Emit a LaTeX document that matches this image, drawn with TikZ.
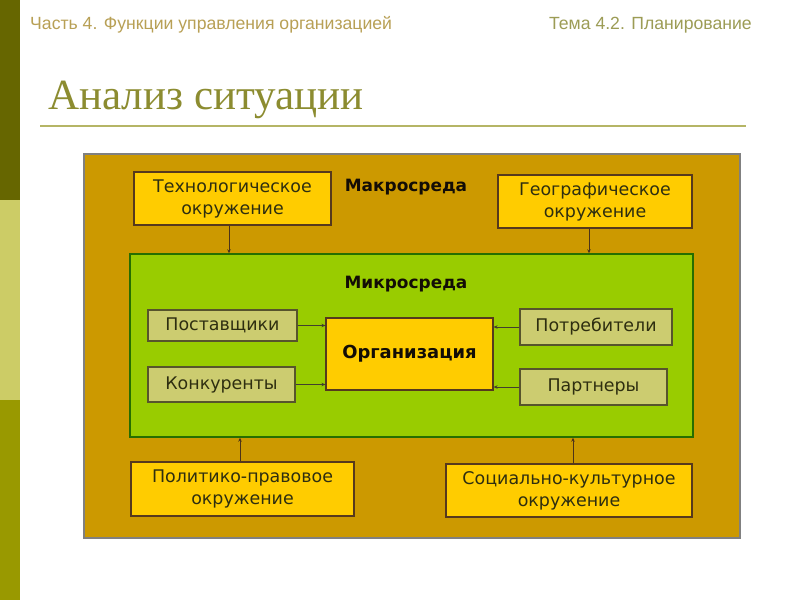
\documentclass[tikz,border=0pt]{standalone}
\usepackage{fontspec}
\setmainfont{DejaVu Sans}
\newfontfamily\hdrfont{Liberation Sans}
\newfontfamily\ttlfont{Liberation Serif}
\usetikzlibrary{arrows.meta}
\definecolor{barA}{HTML}{666600}
\definecolor{barB}{HTML}{CCCC66}
\definecolor{barC}{HTML}{999900}
\definecolor{hdrA}{HTML}{B8A055}
\definecolor{hdrB}{HTML}{9C9C55}
\definecolor{ttl}{HTML}{8C8C30}
\definecolor{rule}{HTML}{B5B565}
\definecolor{macro}{HTML}{CC9900}
\definecolor{micro}{HTML}{99CC00}
\definecolor{gold}{HTML}{FFCC00}
\definecolor{pale}{HTML}{CCCC70}
\definecolor{txt}{HTML}{2E2E10}
\tikzset{
  x=1bp, y=-1bp,
  box/.style={draw=#1, line width=1.2bp, text=txt, align=center, inner sep=0pt,
    font=\fontsize{17.5}{22}\selectfont},
  goldbox/.style={box=black!55!brown, fill=gold},
  palebox/.style={box=black!50!olive, fill=pale},
  lbl/.style={font=\bfseries\fontsize{17}{20}\selectfont, text=black!90!brown},
  arr/.style={draw=#1, line width=0.8bp, -{Stealth[length=4bp,width=3.5bp]}},
}
\begin{document}
\begin{tikzpicture}
\useasboundingbox (0,0) rectangle (800,600);
\fill[white] (0,0) rectangle (800,600);
% left bar
\fill[barA] (0,0) rectangle (20,200);
\fill[barB] (0,200) rectangle (20,400);
\fill[barC] (0,400) rectangle (20,600);
% header
\node[anchor=west, text=hdrA, font=\hdrfont\fontsize{17.7}{20}\selectfont, inner sep=0pt] (h1) at (30,25) {Часть 4. Функции управления организацией};
\node[anchor=east, text=hdrB, font=\hdrfont\fontsize{17.7}{20}\selectfont, inner sep=0pt] (h2) at (752,25) {Тема 4.2. Планирование};
\node[anchor=base west, text=ttl, font=\ttlfont\fontsize{43.2}{48}\selectfont, inner sep=0pt] (title) at (48,110) {Анализ ситуации};
\draw[rule, line width=1.6bp] (40,126) -- (746,126);
% outer macro
\node[draw=gray, line width=2bp, fill=macro, minimum width=656bp, minimum height=384bp, inner sep=0pt] (outer) at (412,346) {};
\node[draw=black!60!green!70!olive, line width=1.4bp, fill=micro, minimum width=563bp, minimum height=183bp, inner sep=0pt] (micro) at (411.5,345.5) {};
\node[lbl] (maclbl) at (406,187) {Макросреда};
\node[lbl] (miclbl) at (406,284) {Микросреда};
% macro boxes
\node[goldbox, minimum width=197bp, minimum height=53bp] (tech) at (232.5,198.5) {Технологическое\\окружение};
\node[goldbox, minimum width=194bp, minimum height=53bp] (geo) at (595,201.5) {Географическое\\окружение};
\node[goldbox, minimum width=223bp, minimum height=54bp] (pol) at (242.5,489) {Политико-правовое\\окружение};
\node[goldbox, minimum width=246bp, minimum height=53bp] (soc) at (569,490.5) {Социально-культурное\\окружение};
% micro boxes
\node[palebox, minimum width=149bp, minimum height=31bp] (sup) at (222.5,325.5) {Поставщики};
\node[palebox, minimum width=147bp, minimum height=35bp] (comp) at (221.5,384.5) {Конкуренты};
\node[palebox, minimum width=152bp, minimum height=36bp] (cons) at (596,327) {Потребители};
\node[palebox, minimum width=147bp, minimum height=36bp] (part) at (593.5,387) {Партнеры};
\node[goldbox, minimum width=167bp, minimum height=72bp, font=\bfseries\fontsize{18}{20}\selectfont, text=black!90!brown] (org) at (409.5,354) {Организация};
% arrows
\draw[arr=black!70!olive] (sup.east) -- (sup.east -| org.west);
\draw[arr=black!70!olive] (comp.east) -- (comp.east -| org.west);
\draw[arr=black!70!olive] (cons.west) -- (cons.west -| org.east);
\draw[arr=black!70!olive] (part.west) -- (part.west -| org.east);
\draw[arr=black!60!brown] ([xshift=-3.5bp]tech.south) -- ([xshift=-3.5bp]tech.south |- micro.north);
\draw[arr=black!60!brown] ([xshift=-6bp]geo.south) -- ([xshift=-6bp]geo.south |- micro.north);
\draw[arr=black!60!brown] ([xshift=-2.5bp]pol.north) -- ([xshift=-2.5bp]pol.north |- micro.south);
\draw[arr=black!60!brown] ([xshift=4bp]soc.north) -- ([xshift=4bp]soc.north |- micro.south);
\end{tikzpicture}
\end{document}
